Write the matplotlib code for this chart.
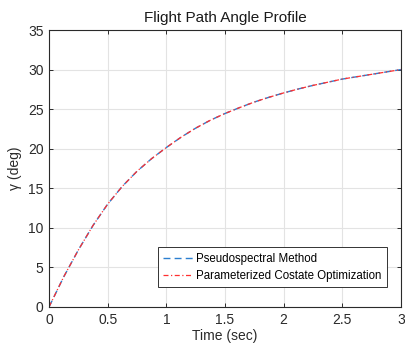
import matplotlib.pyplot as plt
import numpy as np

# values
t = [0, 0.125, 0.25, 0.375, 0.5, 0.625, 0.75, 0.875, 1.0, 1.125, 1.25, 1.375, 1.5,
     1.625, 1.75, 1.875, 2.0, 2.125, 2.25, 2.375, 2.5, 2.625, 2.75, 2.875, 3.0]
gamma_ps = [0, 3.8, 7.2, 10.3, 13.0, 15.25, 17.15, 18.75, 20.15, 21.45, 22.6, 23.6, 24.45,
            25.2, 25.9, 26.5, 27.05, 27.55, 28.0, 28.4, 28.8, 29.1, 29.4, 29.7, 30.0]
gamma_pco = list(gamma_ps)

xticks = [0, 0.5, 1, 1.5, 2, 2.5, 3]
xticklabels = ["0", "0.5", "1", "1.5", "2", "2.5", "3"]
yticks = [0, 5, 10, 15, 20, 25, 30, 35]

plt.rcParams["font.family"] = ["Liberation Sans", "DejaVu Sans"]

fig = plt.figure(figsize=(4.06, 3.44), dpi=100)
ax = fig.add_axes([49 / 406, 37 / 344, 352 / 406, 277 / 344])

ax.plot(t, gamma_ps, linestyle=(0, (5, 3)), color="#2b7fd0", linewidth=1.0,
        label="Pseudospectral Method")
ax.plot(t, gamma_pco, linestyle=(0, (4, 2, 1, 2)), color="#ff3030", linewidth=0.9,
        label="Parameterized Costate Optimization")

ax.set_xlim(0, 3)
ax.set_ylim(0, 35)
ax.set_xticks(xticks)
ax.set_xticklabels(xticklabels)
ax.set_yticks(yticks)
ax.grid(True, color="#e3e3e3", linewidth=0.8)
ax.set_axisbelow(True)

for s in ax.spines.values():
    s.set_color("#2a2a2a")
    s.set_linewidth(0.8)
ax.tick_params(direction="in", length=3, width=0.7, top=True, right=True,
               labelsize=10, colors="#2a2a2a", pad=4)

ax.set_title("Flight Path Angle Profile", fontsize=11, color="#1a1a1a", pad=6)
ax.set_xlabel("Time (sec)", fontsize=10, color="#2a2a2a", labelpad=2)
ax.set_ylabel("γ (deg)", fontsize=10, color="#2a2a2a", labelpad=4)

leg = ax.legend(loc="lower right", bbox_to_anchor=(0.96, 0.072), borderaxespad=0,
                fontsize=8.3, fancybox=False, framealpha=1, edgecolor="#333333",
                handlelength=2.6, handletextpad=0.3, borderpad=0.45,
                labelspacing=0.45)
leg.get_frame().set_linewidth(0.7)

fig.savefig("out.png", dpi=100)
